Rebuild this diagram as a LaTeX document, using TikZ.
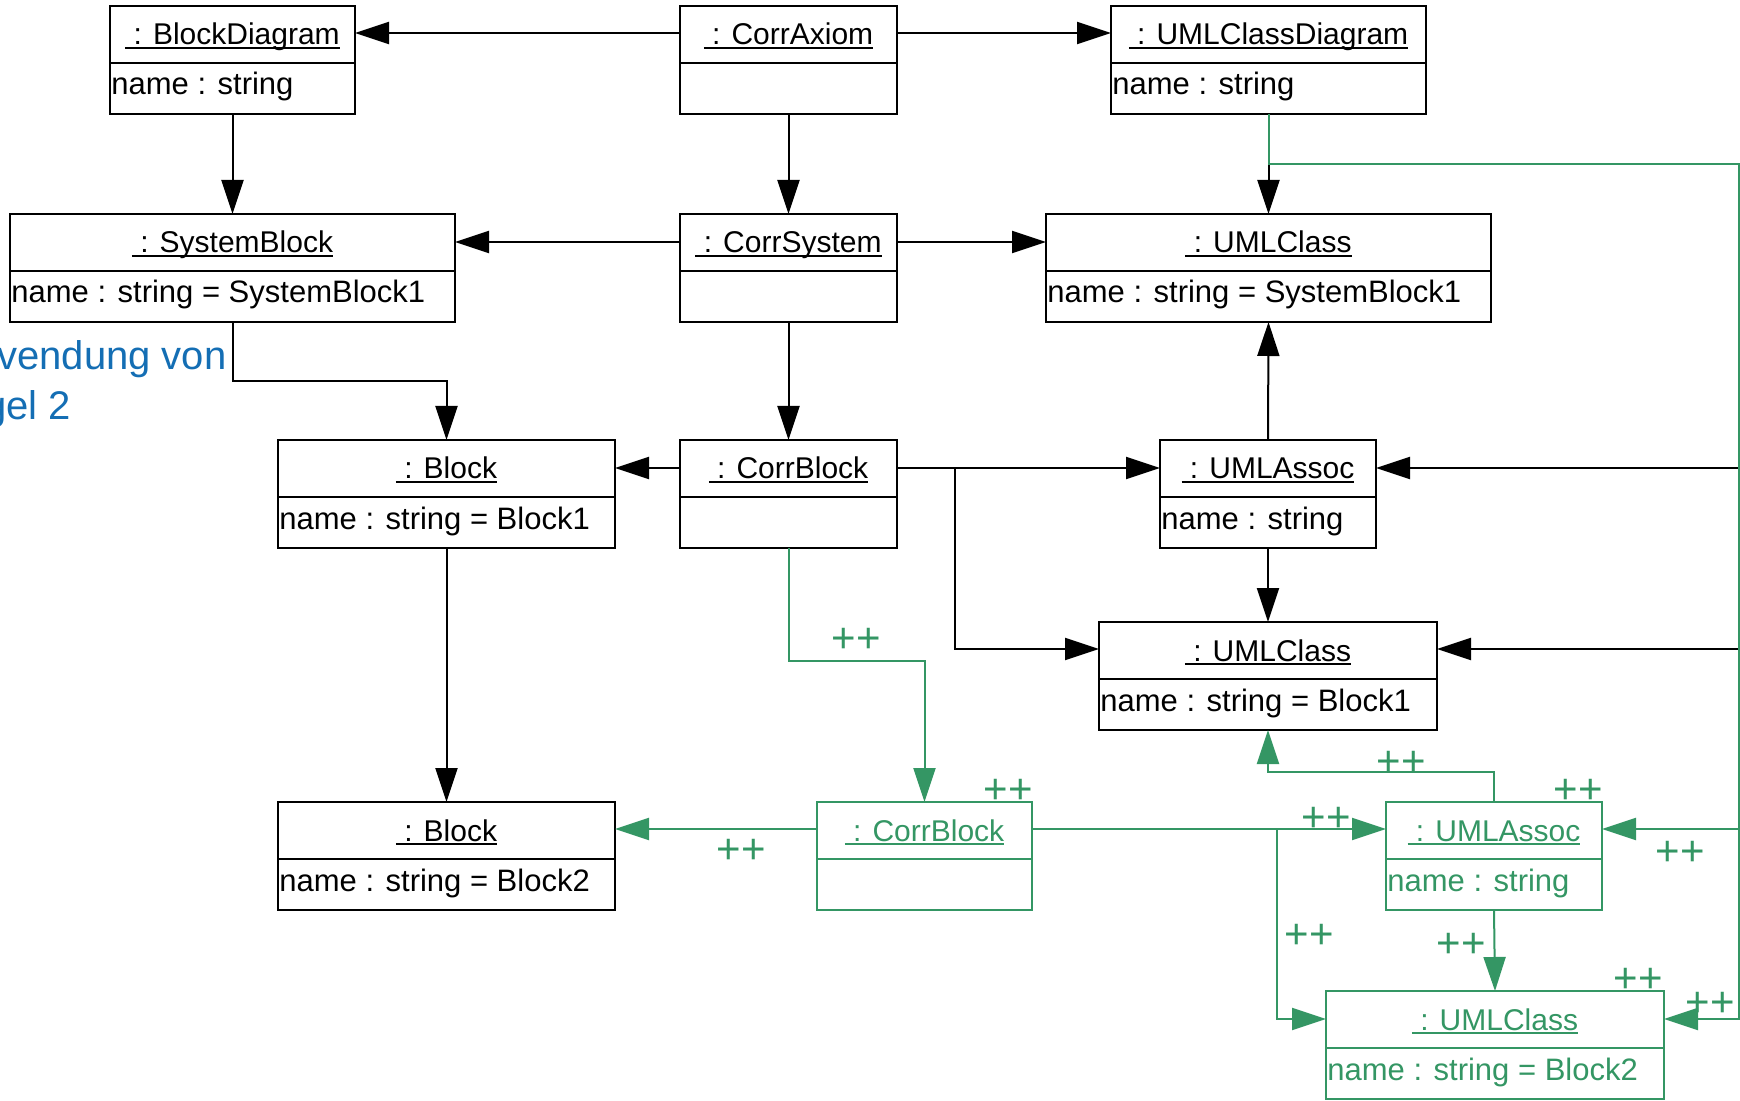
\documentclass[tikz,border=0pt]{standalone}
\usepackage{fontspec}
\setmainfont{Liberation Sans}
\usetikzlibrary{arrows.meta,calc}

\definecolor{tggreen}{RGB}{52,150,100}
\definecolor{noteblue}{RGB}{20,110,180}

% underline at a fixed distance below the baseline
\newsavebox{\undlbox}
\newcommand\undl[1]{\sbox\undlbox{#1}\rlap{\rule[-2.2pt]{\wd\undlbox}{1pt}}\usebox\undlbox}

% object box: name, left, top, width, colour, title, attribute
\newcommand\umlobj[7]{%
  \node[objframe, draw=#5, minimum width={#4*0.5pt}, anchor=north west] (#1) at (#2,#3) {};
  \draw[#5, line width=1.4pt] ($(#1.north west)+(0,57)$) -- ($(#1.north east)+(0,57)$);
  \node[titletext, text=#5] (#1-title) at ($(#1.north)+(0,39)$) {\undl{\ : #6}};
  \node[attrtext, text=#5] (#1-attr) at ($(#1.north west)+(1,89)$) {#7};
}

\begin{document}
\begin{tikzpicture}[x=0.5pt,y=-0.5pt,
  objframe/.style={line width=1.4pt, inner sep=0pt, outer sep=0pt, minimum height=54pt},
  titletext/.style={anchor=base, inner sep=0pt, font=\fontsize{15pt}{18pt}\selectfont},
  attrtext/.style={anchor=base west, inner sep=0pt, font=\fontsize{15.5pt}{18pt}\selectfont},
  assoc/.style={draw=black, line width=1pt, -{Triangle[length=17pt,width=11pt]}},
  newassoc/.style={draw=tggreen, line width=1pt, -{Triangle[length=17pt,width=11pt]}},
  plusmark/.style={anchor=base, inner sep=0pt, text=tggreen, font=\fontsize{21pt}{24pt}\selectfont},
  notetext/.style={anchor=base west, inner sep=0pt, text=noteblue, font=\fontsize{20pt}{25pt}\selectfont}]

\useasboundingbox (0,0) rectangle (1740,1101);

% rule note, cut at the left border
\begin{scope}
  \clip (0,0) rectangle (1740,1101);
  \node[notetext] (note1) at (-3,370) {vendung von};
  \node[notetext] (note2) at (-16,420) {gel 2};
\end{scope}

% existing objects
\umlobj{bd}{110}{6}{245}{black}{BlockDiagram}{name : string}
\umlobj{ca}{680}{6}{217}{black}{CorrAxiom}{}
\umlobj{ucd}{1111}{6}{315}{black}{UMLClassDiagram}{name : string}
\umlobj{sb}{10}{214}{445}{black}{SystemBlock}{name : string = SystemBlock1}
\umlobj{cs}{680}{214}{217}{black}{CorrSystem}{}
\umlobj{uca}{1046}{214}{445}{black}{UMLClass}{name : string = SystemBlock1}
\umlobj{bla}{278}{440}{337}{black}{Block}{name : string = Block1}
\umlobj{cb}{680}{440}{217}{black}{CorrBlock}{}
\umlobj{ua}{1160}{440}{216}{black}{UMLAssoc}{name : string}
\umlobj{ucb}{1099}{622}{338}{black}{UMLClass}{name : string = Block1}
\umlobj{blb}{278}{802}{337}{black}{Block}{name : string = Block2}

% created objects
\umlobj{ncb}{817}{802}{215}{tggreen}{CorrBlock}{}
\umlobj{nua}{1386}{802}{216}{tggreen}{UMLAssoc}{name : string}
\umlobj{nuc}{1326}{991}{338}{tggreen}{UMLClass}{name : string = Block2}

% rail along the right border
\coordinate (rail) at (1739,164);

% existing links
\draw[assoc] ($(ca.north west)+(0,27)$) -- ($(bd.north east)+(0,27)$);
\draw[assoc] ($(ca.north east)+(0,27)$) -- ($(ucd.north west)+(0,27)$);
\draw[assoc] (ca.south) -- (cs.north);
\draw[assoc] (bd.south) -- (sb.north);
\draw[assoc] ($(cs.north west)+(0,28)$) -- ($(sb.north east)+(0,28)$);
\draw[assoc] ($(cs.north east)+(0,28)$) -- ($(uca.north west)+(0,28)$);
\draw[assoc] (cs.south) -- (cb.north);
\draw[assoc] (ucd.south) -- (uca.north);
\draw[assoc] (sb.south) -- ++(0,59) -| (bla.north);
\draw[assoc] ($(cb.north west)+(0,28)$) -- ($(bla.north east)+(0,28)$);
\draw[assoc] ($(cb.north east)+(0,28)$) -- ($(ua.north west)+(0,28)$);
\draw[assoc] ($(cb.north east)+(58,28)$) |- ($(ucb.north west)+(0,27)$);
\draw[assoc] (ua.north) -- (uca.south);
\draw[assoc] (ua.south) -- (ucb.north);
\draw[assoc] (bla.south) -- (blb.north);
\draw[assoc] (ucd.south) |- (rail) |- ($(ua.north east)+(0,28)$);
\draw[assoc] (ucd.south) |- (rail) |- ($(ucb.north east)+(0,27)$);

% created links
\draw[newassoc] (ucd.south) |- (rail) |- ($(nua.north east)+(0,27)$);
\draw[newassoc] (ucd.south) |- (rail) |- ($(nuc.north east)+(0,28)$);
\draw[newassoc] (cb.south) -- ++(0,113) -| (ncb.north);
\draw[newassoc] ($(ncb.north west)+(0,27)$) -- ($(blb.north east)+(0,27)$);
\draw[newassoc] ($(ncb.north east)+(0,27)$) -- ($(nua.north west)+(0,27)$);
\draw[newassoc] ($(ncb.north east)+(245,27)$) |- ($(nuc.north west)+(0,28)$);
\draw[newassoc] (nua.north) -- ++(0,-30) -| (ucb.south);
\draw[newassoc] (nua.south) -- (nuc.north);

% creation marks
\node[plusmark] (p1) at (856,652) {++};
\node[plusmark] (p2) at (1008,803) {++};
\node[plusmark] (p3) at (741,863) {++};
\node[plusmark] (p4) at (1326,831) {++};
\node[plusmark] (p5) at (1309,948) {++};
\node[plusmark] (p6) at (1401,775) {++};
\node[plusmark] (p7) at (1578,803) {++};
\node[plusmark] (p8) at (1461,957) {++};
\node[plusmark] (p9) at (1638,992) {++};
\node[plusmark] (p10) at (1680,865) {++};
\node[plusmark] (p11) at (1710,1016) {++};

\end{tikzpicture}
\end{document}
